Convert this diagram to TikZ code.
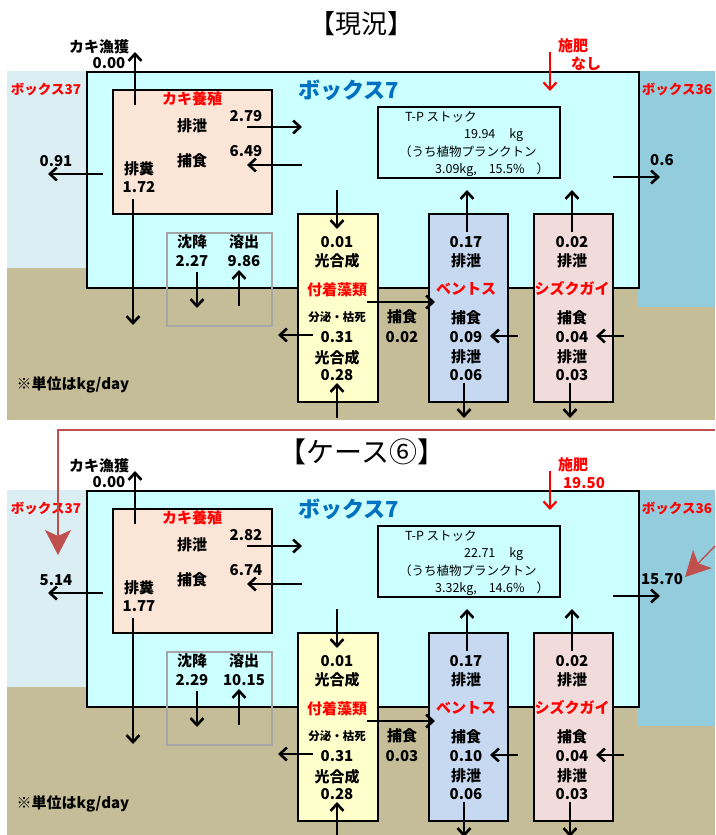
\documentclass[tikz,border=0pt]{standalone}
\usepackage{fontspec}
\setmainfont{Noto Sans CJK JP}
\usetikzlibrary{arrows.meta}
\definecolor{lblue}{HTML}{DAEEF3}
\definecolor{cyanbox}{HTML}{CCFFFF}
\definecolor{rblue}{HTML}{93CDDD}
\definecolor{tanc}{HTML}{C4BD97}
\definecolor{oyster}{HTML}{FBE5D6}
\definecolor{algae}{HTML}{FFFFCC}
\definecolor{benth}{HTML}{C6D9F1}
\definecolor{shizu}{HTML}{F2DCDB}
\definecolor{boxblue}{HTML}{0070C0}
\definecolor{conred}{HTML}{C0504D}
\definecolor{sedgray}{HTML}{A6A6A6}
\tikzset{
 flow/.style={line width=2.6pt,-{Straight Barb[length=7pt,width=13pt]}},
 lbl/.style={font=\fontsize{15}{17}\selectfont\bfseries,inner sep=0pt},
 small/.style={font=\fontsize{11.5}{13}\selectfont\bfseries,inner sep=0pt},
 redl/.style={lbl,text=red},
 boxname/.style={font=\fontsize{13.5}{15}\selectfont\bfseries,inner sep=0pt,text=red},
 tpt/.style={font=\fontsize{12.5}{14}\selectfont,inner sep=0pt,anchor=west},
 boxst/.style={draw=black,line width=1.8pt,anchor=north west,inner sep=0pt},
 titlest/.style={font=\fontsize{26}{30}\selectfont,inner sep=0pt},
 conn/.style={conred,line width=1.4pt},
 bighead/.style={-{Stealth[length=25pt,width=26pt,inset=6pt]}}
}
\newcommand\drawpanel{%
 \fill[tanc] (7,268) rectangle (715,420);
 \fill[lblue] (7,71) rectangle (86,268);
 \fill[rblue] (638,71) rectangle (715,307);
 \node[draw=black,fill=cyanbox,line width=2.4pt,anchor=north west,inner sep=0pt,
   minimum width=552pt,minimum height=216pt] (box7) at (86,71) {};
 \node[boxst,fill=oyster,minimum width=159pt,minimum height=124pt] (oy) at (112,89) {};
 \node[draw=sedgray,line width=1.5pt,anchor=north west,inner sep=0pt,
   minimum width=105pt,minimum height=93pt] (sed) at (166,232) {};
 \node[boxst,fill=algae,minimum width=80pt,minimum height=188pt] (alg) at (297,213) {};
 \node[boxst,fill=benth,minimum width=79pt,minimum height=188pt] (ben) at (428,213) {};
 \node[boxst,fill=shizu,minimum width=79pt,minimum height=188pt] (shz) at (533,213) {};
 \node[boxst,minimum width=182pt,minimum height=71pt] (tp) at (377,106) {};
 % region labels
 \node[boxname] (b37) at (46,89) {ボックス37};
 \node[boxname] (b36) at (677,89) {ボックス36};
 \node[font=\fontsize{22}{24}\selectfont\bfseries,text=boxblue,inner sep=0pt] (b7) at (349,90) {ボックス7};
 % fishing
 \node[lbl] (fish) at (99,47) {カキ漁獲};
 \node[lbl] (fishv) at (109,63) {0.00};
 \draw[flow] (135,105) -- (135,52);
 % fertiliser
 \node[redl] (fert) at (573,46) {施肥};
 \node[redl] (fertv) at (\pFertX,64) {\pFert};
 \draw[flow,red,line width=2.2pt] (550,52) -- (550,91);
 % oyster culture
 \node[redl] (oyt) at (192,99) {カキ養殖};
 \node[lbl] (exc) at (192,126) {排泄};
 \node[lbl] (excv) at (246,116) {\pExc};
 \draw[flow] (247,127) -- (302,127);
 \node[lbl] (pred) at (192,161) {捕食};
 \node[lbl] (predv) at (246,151) {\pPred};
 \draw[flow] (302,165) -- (247,165);
 \node[lbl] (fec) at (139,169) {排糞};
 \node[lbl] (fecv) at (139,187) {\pFec};
 \draw[flow] (133,199) -- (133,325);
 % exchange with neighbouring boxes
 \node[lbl] (outl) at (56,161) {\pOutL};
 \draw[flow] (103,174) -- (48,174);
 \node[lbl] (outr) at (662,160) {\pOutR};
 \draw[flow] (613,177) -- (660,177);
 % T-P stock
 \node[tpt] (tp1) at (405,117) {T-P ストック};
 \node[tpt] (tp2) at (464,135) {\pStock\hspace{14pt}kg};
 \node[tpt] (tp3) at (399,152) {（うち植物プランクトン};
 \node[tpt] (tp4) at (435,170) {\pPhyto};
 % sedimentation / dissolution
 \node[lbl] (sedt) at (192,242) {沈降};
 \node[lbl] (sedv) at (192,261) {\pSed};
 \node[lbl] (dist) at (244,242) {溶出};
 \node[lbl] (disv) at (244,261) {\pDis};
 \draw[flow] (197,272) -- (197,308);
 \draw[flow] (239,306) -- (239,270);
 % attached algae
 \node[lbl] at (337,242) {0.01};
 \node[lbl] at (337,261) {光合成};
 \node[redl] at (337,290) {付着藻類};
 \node[small] at (337,317) {分泌・枯死};
 \node[lbl] at (337,337) {0.31};
 \node[lbl] at (337,358) {光合成};
 \node[lbl] at (337,375) {0.28};
 \draw[flow] (337,190) -- (337,229);
 \draw[flow] (337,418) -- (337,383);
 \draw[flow] (313,335) -- (278,335);
 \draw[flow] (367,302) -- (435,302);
 \node[lbl] at (402,317) {捕食};
 \node[lbl] at (402,337) {\pGraze};
 % benthos
 \node[lbl] at (466,242) {0.17};
 \node[lbl] at (466,261) {排泄};
 \node[redl] at (466,289) {ベントス};
 \node[lbl] at (466,318) {捕食};
 \node[lbl] at (466,337) {\pBen};
 \node[lbl] at (466,357) {排泄};
 \node[lbl] at (466,375) {0.06};
 \draw[flow] (467,232) -- (467,190);
 \draw[flow] (518,336) -- (490,336);
 \draw[flow] (464,383) -- (464,418);
 % shizukugai
 \node[lbl] at (572,242) {0.02};
 \node[lbl] at (572,261) {排泄};
 \node[redl] at (572,289) {シズクガイ};
 \node[lbl] at (572,318) {捕食};
 \node[lbl] at (572,337) {0.04};
 \node[lbl] at (572,357) {排泄};
 \node[lbl] at (572,375) {0.03};
 \draw[flow] (572,232) -- (572,190);
 \draw[flow] (624,336) -- (596,336);
 \draw[flow] (570,383) -- (570,418);
 % unit note
 \node[lbl] at (73,385) {※単位はkg/day};
}
\begin{document}
\begin{tikzpicture}[x=1pt,y=-1pt]
\useasboundingbox (0,0) rectangle (715,835);
\fill[white] (0,0) rectangle (715,835);
% panel 1: current state
\node[titlest] (t1) at (361,24) {【現況】};
\def\pFert{なし}\def\pFertX{586}
\def\pExc{2.79}\def\pPred{6.49}\def\pFec{1.72}
\def\pOutL{0.91}\def\pOutR{0.6}
\def\pStock{19.94}\def\pPhyto{3.09kg,\hspace{12pt}15.5\%\hspace{12pt}）}
\def\pSed{2.27}\def\pDis{9.86}\def\pGraze{0.02}\def\pBen{0.09}
\drawpanel
% panel 2: case 6
\node[titlest,font=\fontsize{28}{32}\selectfont] (t2) at (362,452) {【ケース⑥】};
\begin{scope}[shift={(0,419)}]
\def\pFert{19.50}\def\pFertX{584}
\def\pExc{2.82}\def\pPred{6.74}\def\pFec{1.77}
\def\pOutL{5.14}\def\pOutR{15.70}
\def\pStock{22.71}\def\pPhyto{3.32kg,\hspace{12pt}14.6\%\hspace{12pt}）}
\def\pSed{2.29}\def\pDis{10.15}\def\pGraze{0.03}\def\pBen{0.10}
\drawpanel
\end{scope}
% pointer connectors
\coordinate (c0) at (715,430);
\coordinate (c1) at (58,430);
\coordinate (c2) at (58,555);
\draw[conn,bighead] (c0) -- (c1) -- (c2);
\coordinate (d0) at (715,546);
\coordinate (d1) at (685,577);
\draw[conn,bighead] (d0) -- (d1);
\end{tikzpicture}
\end{document}
